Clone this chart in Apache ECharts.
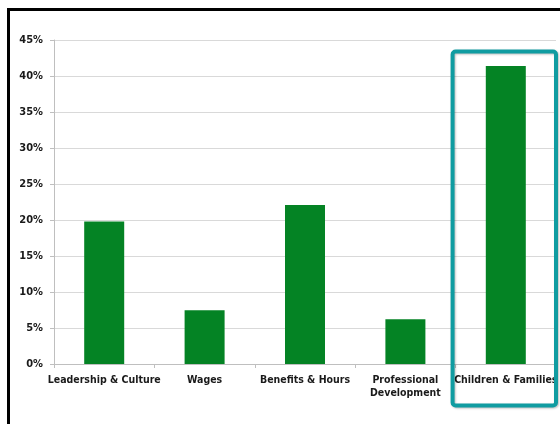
<!DOCTYPE html>
<html>
<head>
<meta charset="utf-8">
<script src="https://cdn.jsdelivr.net/npm/echarts@6/dist/echarts.min.js"></script>
<style>
  html, body { margin: 0; padding: 0; background: #fff; }
  #chart { width: 560px; height: 424px; }
</style>
</head>
<body>
<div id="chart"></div>
<script>
const categories = ['Leadership & Culture', 'Wages', 'Benefits & Hours', 'Professional\nDevelopment', 'Children & Families']
const shares = [19.8, 7.45, 22.1, 6.2, 41.4]
const highlightIndex = 4

const font = '"DejaVu Sans Condensed", sans-serif'

const chart = echarts.init(document.getElementById('chart'))

chart.setOption({
  animation: false,
  grid: {
    left: 54,
    right: 4,
    top: 40,
    bottom: 60,
    outerBoundsMode: 'none'
  },
  xAxis: {
    type: 'category',
    data: categories,
    axisLine: { lineStyle: { color: '#bfbfbf' } },
    axisTick: { show: true, length: 4, lineStyle: { color: '#bfbfbf' } },
    axisLabel: {
      color: '#1a1a1a',
      fontFamily: font,
      fontWeight: 'bold',
      fontSize: 10.5,
      lineHeight: 13,
      margin: 10,
      interval: 0
    }
  },
  yAxis: {
    type: 'value',
    min: 0,
    max: 45,
    interval: 5,
    axisLine: { show: true, lineStyle: { color: '#bfbfbf' } },
    axisTick: { show: true, length: 4, lineStyle: { color: '#bfbfbf' } },
    splitLine: { lineStyle: { color: '#d9d9d9' } },
    axisLabel: {
      formatter: '{value}%',
      color: '#1a1a1a',
      fontFamily: font,
      fontWeight: 'bold',
      fontSize: 11,
      margin: 11
    }
  },
  series: [
    {
      type: 'bar',
      data: shares,
      barWidth: 40,
      itemStyle: { color: '#048324' }
    }
  ]
})

// frame + highlight box around the last category
const boxCenter = chart.convertToPixel({ xAxisIndex: 0 }, categories[highlightIndex])
const gridTop = chart.convertToPixel({ yAxisIndex: 0 }, 45)
const band = 100.4

chart.setOption({
  graphic: [
    {
      type: 'polyline',
      shape: { points: [[8.5, 424], [8.5, 9.5], [560, 9.5]] },
      style: { stroke: '#000', lineWidth: 3, fill: null }
    },
    {
      type: 'rect',
      shape: {
        x: boxCenter - band * 0.53,
        y: gridTop + 11.5,
        width: band * 1.03,
        height: 354,
        r: 3
      },
      style: {
        stroke: '#109ca1',
        lineWidth: 4,
        fill: null,
        shadowBlur: 2,
        shadowColor: 'rgba(0,0,0,0.25)',
        shadowOffsetX: 1,
        shadowOffsetY: 1
      },
      z: 100
    }
  ]
})
</script>
</body>
</html>
